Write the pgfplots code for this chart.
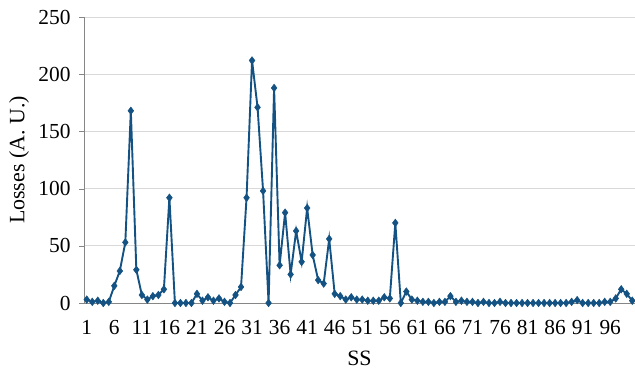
\documentclass[border=0pt]{standalone}
\usepackage{pgfplots}
\pgfplotsset{compat=1.18}
\usepackage{fontspec}
\setmainfont{Liberation Serif}
\definecolor{lineblue}{RGB}{19,82,130}
\definecolor{gridgray}{RGB}{217,217,217}
\definecolor{axgray}{RGB}{134,134,134}
\begin{document}
\begin{tikzpicture}
\useasboundingbox (-84bp,-68bp) rectangle (551bp,303bp);
\begin{axis}[
  scale only axis,
  width=551bp, height=286bp,
  xmin=0.5, xmax=100.5,
  ymin=0, ymax=250,
  ytick={0,50,...,250},
  xtick={1,6,...,96},
  major x tick style={draw=none},
  extra x ticks={0.5,5.5,...,100.5},
  extra x tick labels={},
  extra x tick style={major tick length=5bp, tick style={draw=axgray}, grid=none},
  tick align=outside,
  major tick length=5bp,
  ytick style={draw=axgray},
  ymajorgrids, grid style={draw=gridgray, line width=0.8pt},
  axis x line*=bottom, axis y line*=left,
  axis line style={draw=axgray, line width=0.8pt, -},
  /pgf/number format/assume math mode=true,
  tick label style={font=\fontsize{21.5}{25}\selectfont},
  yticklabel style={xshift=-5bp},
  xticklabel style={yshift=-9bp},
  label style={font=\fontsize{22}{26}\selectfont},
  xlabel={SS},
  ylabel={Losses (A.\ U.)},
  xlabel style={at={(axis description cs:0.5,-0.192)}, anchor=center},
  ylabel style={at={(axis description cs:-0.118,0.5)}, anchor=center, rotate=0},
  clip=false,
]
\addplot[color=lineblue, line width=1.9pt, mark=diamond*, mark size=3.8bp, mark options={fill=lineblue, draw=lineblue, line width=0.5pt}]
coordinates {
(1,3)(2,1)(3,2)(4,0)(5,1)(6,15)(7,28)(8,53)(9,168)(10,29)
(11,7)(12,3)(13,6)(14,7)(15,12)(16,92)(17,0)(18,0)(19,0)(20,0)
(21,8)(22,2)(23,5)(24,2)(25,4)(26,1)(27,0)(28,7)(29,14)(30,92)
(31,212)(32,171)(33,98)(34,0)(35,188)(36,33)(37,79)(38,25)(39,63)(40,36)
(41,83)(42,42)(43,20)(44,17)(45,56)(46,8)(47,6)(48,3)(49,5)(50,3)
(51,3)(52,2)(53,2)(54,2)(55,5)(56,4)(57,70)(58,0)(59,10)(60,3)
(61,2)(62,1)(63,1)(64,0)(65,1)(66,1)(67,6)(68,1)(69,2)(70,1)
(71,1)(72,0)(73,1)(74,0)(75,0)(76,1)(77,0)(78,0)(79,0)(80,0)
(81,0)(82,0)(83,0)(84,0)(85,0)(86,0)(87,0)(88,0)(89,1)(90,2.5)
(91,0)(92,0)(93,0)(94,0)(95,1)(96,1)(97,4)(98,12)(99,8)(100,2)
};
\end{axis}
\end{tikzpicture}
\end{document}
